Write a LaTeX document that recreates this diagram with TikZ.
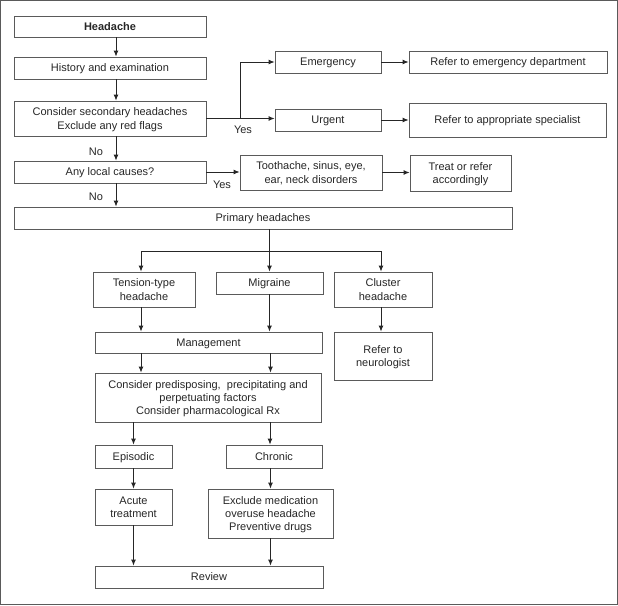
\documentclass[tikz,border=0pt]{standalone}
\usepackage{fontspec}
\setmainfont{Liberation Sans}
\usetikzlibrary{arrows.meta}
\definecolor{txt}{HTML}{262626}
\definecolor{edge}{HTML}{5A5A5A}
\tikzset{
  box/.style={draw=edge, line width=0.8pt, inner sep=0pt, align=center, text=txt,
    text depth=0pt, font=\fontsize{11}{13.3}\selectfont},
  arr/.style={draw=black!85, line width=0.9pt, -{Latex[length=6pt,width=5pt]}},
  ln/.style={draw=black!85, line width=0.9pt},
  lbl/.style={text=txt, font=\fontsize{11}{12}\selectfont, inner sep=0pt}
}
\newcommand{\bx}[6]{\node[box, minimum width=#4, minimum height=#5] (#1) at (#2,#3) {#6};}
\begin{document}
\begin{tikzpicture}[x=1pt,y=-1pt]
\useasboundingbox (0,0) rectangle (618,605);
\draw[edge, line width=1pt] (0.8,0.8) rectangle (617.2,604.2);

\bx{head}{110}{26.5}{192}{21}{\textbf{Headache}}
\bx{hist}{110}{68}{192}{22}{History and examination}
\bx{sec}{110}{118.5}{192}{35}{Consider secondary headaches\\Exclude any red flags}
\bx{local}{110}{172}{192}{22}{Any local causes?}
\bx{prim}{263}{218}{498}{22}{Primary headaches}
\bx{emer}{328}{62}{106}{22}{Emergency}
\bx{refem}{508}{62}{198}{22}{Refer to emergency department}
\bx{urg}{328}{120}{106}{22}{Urgent}
\bx{refsp}{507.5}{120}{197}{34}{Refer to appropriate specialist}
\bx{tooth}{311}{172.5}{142}{35}{Toothache, sinus, eye,\\ear, neck disorders}
\bx{treat}{460.5}{173}{101}{36}{Treat or refer\\accordingly}
\bx{tens}{144}{289.5}{102}{35}{Tension-type\\headache}
\bx{mig}{269.5}{283}{107}{22}{Migraine}
\bx{clus}{383}{289.5}{98}{35}{Cluster\\headache}
\bx{mgmt}{208.5}{342.5}{227}{21}{Management}
\bx{neuro}{383}{356}{98}{48}{Refer to\\neurologist}
\bx{cons}{208}{397.5}{226}{49}{Consider predisposing,~ precipitating and\\perpetuating factors\\Consider pharmacological Rx}
\bx{epi}{133.5}{456.5}{77}{23}{Episodic}
\bx{chr}{274}{456.5}{96}{23}{Chronic}
\bx{acute}{133.5}{507}{77}{36}{Acute\\treatment}
\bx{excl}{270.5}{513.5}{125}{49}{Exclude medication\\overuse headache\\Preventive drugs}
\bx{review}{209}{577}{228}{22}{Review}

% left column
\draw[arr] ([xshift=6]head.south) -- ([xshift=6]hist.north);
\draw[arr] ([xshift=6]hist.south) -- ([xshift=6]sec.north);
\draw[arr] ([xshift=6]sec.south) -- ([xshift=6]local.north);
\draw[arr] ([xshift=6]local.south) -- ([xshift=-147]prim.north);
\node[lbl] (no1) at (96,152) {No};
\node[lbl] (no2) at (96,197) {No};

% yes branches
\coordinate (yb) at (240,118.5);
\draw[arr] (sec.east) -- (sec.east -| urg.west);
\draw[arr] (yb) |- (emer.west);
\node[lbl] (yes1) at (243,130) {Yes};
\draw[arr] (local.east) -- (local.east -| tooth.west);
\node[lbl] (yes2) at (222,185) {Yes};
\draw[arr] (emer.east) -- (refem.west);
\draw[arr] (urg.east) -- (urg.east -| refsp.west);
\draw[arr] (tooth.east) -- (tooth.east -| treat.west);

% primary headaches
\coordinate (pl) at (141,251);
\coordinate (pr) at (381,251);
\draw[arr] (prim.south -| mig.north) -- (mig.north);
\draw[ln] (pl) -- (pr);
\draw[arr] (pl) -- (pl |- tens.north);
\draw[arr] (pr) -- (pr |- clus.north);
\draw[arr] (tens.south -| pl) -- (mgmt.north -| pl);
\draw[arr] (mig.south) -- (mig.south |- mgmt.north);
\draw[arr] (clus.south -| pr) -- (neuro.north -| pr);
\draw[arr] (mgmt.south -| pl) -- (cons.north -| pl);
\draw[arr] ([xshift=62]mgmt.south) -- ([xshift=62]mgmt.south |- cons.north);
\draw[arr] (cons.south -| epi.north) -- (epi.north);
\draw[arr] ([xshift=62]cons.south) -- ([xshift=62]cons.south |- chr.north);
\draw[arr] (epi.south) -- (acute.north);
\draw[arr] (chr.south -| excl.north) -- (excl.north);
\draw[arr] (acute.south) -- (acute.south |- review.north);
\draw[arr] (excl.south) -- (excl.south |- review.north);
\end{tikzpicture}
\end{document}
